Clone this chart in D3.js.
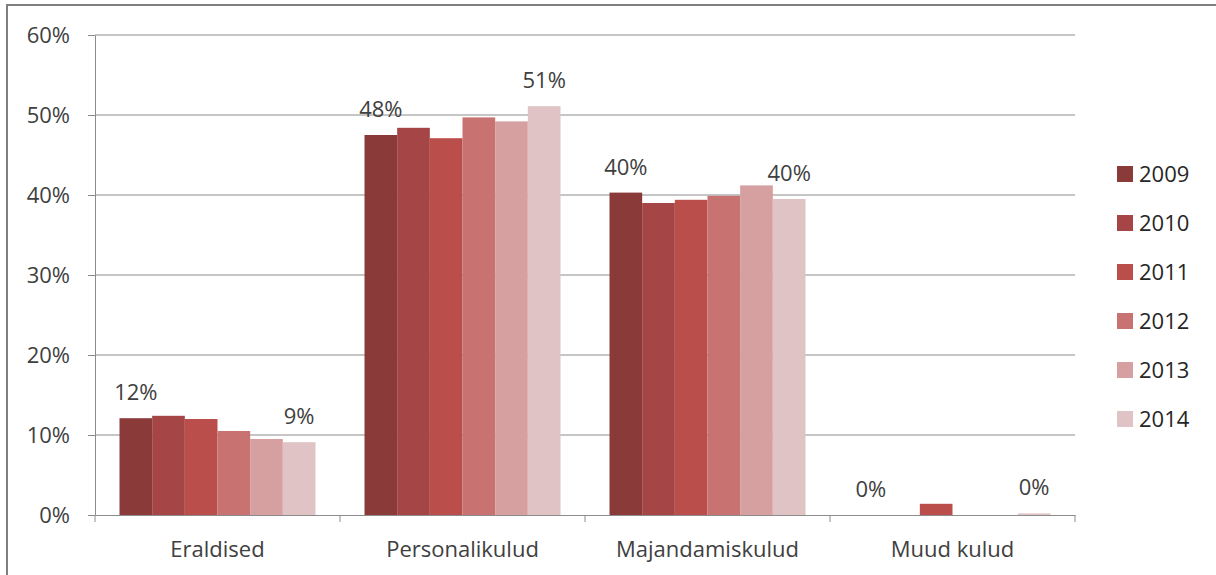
<!DOCTYPE html>
<html>
<head>
<meta charset="utf-8">
<script src="https://cdn.jsdelivr.net/npm/d3@7"></script>
<style>
  body { margin: 0; background: #fff; }
  svg { display: block; font-family: "Open Sans", Lato, sans-serif; }
</style>
</head>
<body>
<script>
// categories and series
var categories = ["Eraldised", "Personalikulud", "Majandamiskulud", "Muud kulud"];
var years = ["2009", "2010", "2011", "2012", "2013", "2014"];
var colors = ["#8b3a3a", "#a64545", "#ba4e4b", "#c87272", "#d5a09f", "#e0c3c4"];

// share per year, in percent, one array per category
var eraldised = [12.1, 12.4, 12.0, 10.5, 9.5, 9.1];
var personalikulud = [47.5, 48.4, 47.1, 49.7, 49.2, 51.1];
var majandamiskulud = [40.3, 39.0, 39.4, 39.9, 41.2, 39.5];
var muudKulud = [0.0, 0.0, 1.4, 0.0, 0.0, 0.2];
var values = [eraldised, personalikulud, majandamiskulud, muudKulud];

// labels shown only over first and last bar
var labels = [["12%", "9%"], ["48%", "51%"], ["40%", "40%"], ["0%", "0%"]];
var yTicks = [0, 10, 20, 30, 40, 50, 60];

var W = 1216, H = 575;
var margin = {top: 35, left: 95, right: 141, bottom: 60};
var width = W - margin.left - margin.right,
    height = H - margin.top - margin.bottom;
var fs = 22;

var svg = d3.select("body").append("svg")
    .attr("width", W)
    .attr("height", H);

// outer frame (top and left edges visible)
svg.append("line").attr("x1", 6).attr("x2", W).attr("y1", 5).attr("y2", 5)
    .attr("stroke", "#7f7f7f").attr("stroke-width", 2);
svg.append("line").attr("x1", 7).attr("x2", 7).attr("y1", 4).attr("y2", H)
    .attr("stroke", "#7f7f7f").attr("stroke-width", 2);

var g = svg.append("g")
    .attr("transform", "translate(" + margin.left + "," + margin.top + ")");

var x0 = d3.scaleBand().domain(categories).range([0, width]).padding(0);
var x1 = d3.scaleBand().domain(years)
    .range([x0.bandwidth() * 0.1, x0.bandwidth() * 0.9]).padding(0);
var y = d3.scaleLinear().domain([0, 60]).range([height, 0]);

// gridlines
g.append("g").selectAll("line").data(yTicks.slice(1)).enter().append("line")
    .attr("x1", 0).attr("x2", width)
    .attr("y1", function(d) { return y(d); })
    .attr("y2", function(d) { return y(d); })
    .attr("stroke", "#8c8c8c").attr("stroke-width", 1);

// bars
var groups = g.append("g").selectAll("g").data(categories).enter().append("g")
    .attr("transform", function(d) { return "translate(" + x0(d) + ",0)"; });

groups.selectAll("rect")
    .data(function(d, i) { return values[i].map(function(v, j) { return {year: years[j], v: v, c: colors[j]}; }); })
    .enter().append("rect")
    .attr("x", function(d) { return x1(d.year); })
    .attr("width", x1.bandwidth())
    .attr("y", function(d) { return y(d.v); })
    .attr("height", function(d) { return y(0) - y(d.v); })
    .attr("fill", function(d) { return d.c; });

// value labels on 2009 and 2014
groups.each(function(d, i) {
    var first = values[i][0], last = values[i][values[i].length - 1];
    var grp = d3.select(this);
    grp.append("text")
        .attr("x", x1(years[0]) + x1.bandwidth() / 2)
        .attr("y", y(first) - 18)
        .attr("text-anchor", "middle")
        .attr("font-size", fs).attr("fill", "#404040")
        .text(labels[i][0]);
    grp.append("text")
        .attr("x", x1(years[years.length - 1]) + x1.bandwidth() / 2)
        .attr("y", y(last) - 18)
        .attr("text-anchor", "middle")
        .attr("font-size", fs).attr("fill", "#404040")
        .text(labels[i][1]);
});

// y axis
var yAxis = g.append("g")
    .call(d3.axisLeft(y).tickValues(yTicks).tickSize(7).tickSizeOuter(0)
        .tickFormat(function(d) { return d + "%"; }));
yAxis.select(".domain").attr("stroke", "#8c8c8c");
yAxis.selectAll(".tick line").attr("stroke", "#8c8c8c");
yAxis.selectAll(".tick text").attr("font-size", fs).attr("fill", "#404040")
    .attr("font-family", "'Open Sans', Lato, sans-serif").attr("x", -25);

// x axis
var xAxis = g.append("g")
    .attr("transform", "translate(0," + height + ")")
    .call(d3.axisBottom(x0).tickSize(0).tickSizeOuter(0));
xAxis.select(".domain").attr("stroke", "#8c8c8c");
xAxis.selectAll(".tick text").attr("font-size", fs).attr("fill", "#404040")
    .attr("font-family", "'Open Sans', Lato, sans-serif")
    .attr("dy", null).attr("y", 42);

// x category separators
g.append("g").selectAll("line").data(categories.concat(["end"])).enter().append("line")
    .attr("x1", function(d, i) { return i * x0.bandwidth(); })
    .attr("x2", function(d, i) { return i * x0.bandwidth(); })
    .attr("y1", height).attr("y2", height + 7)
    .attr("stroke", "#8c8c8c");

// legend
var legend = svg.append("g").attr("transform", "translate(1117,166)");
var items = legend.selectAll("g").data(years).enter().append("g")
    .attr("transform", function(d, i) { return "translate(0," + (i * 49) + ")"; });
items.append("rect").attr("width", 16).attr("height", 16)
    .attr("fill", function(d, i) { return colors[i]; });
items.append("text").attr("x", 22).attr("y", 16)
    .attr("font-size", fs).attr("fill", "#262626")
    .text(function(d) { return d; });
</script>
</body>
</html>
